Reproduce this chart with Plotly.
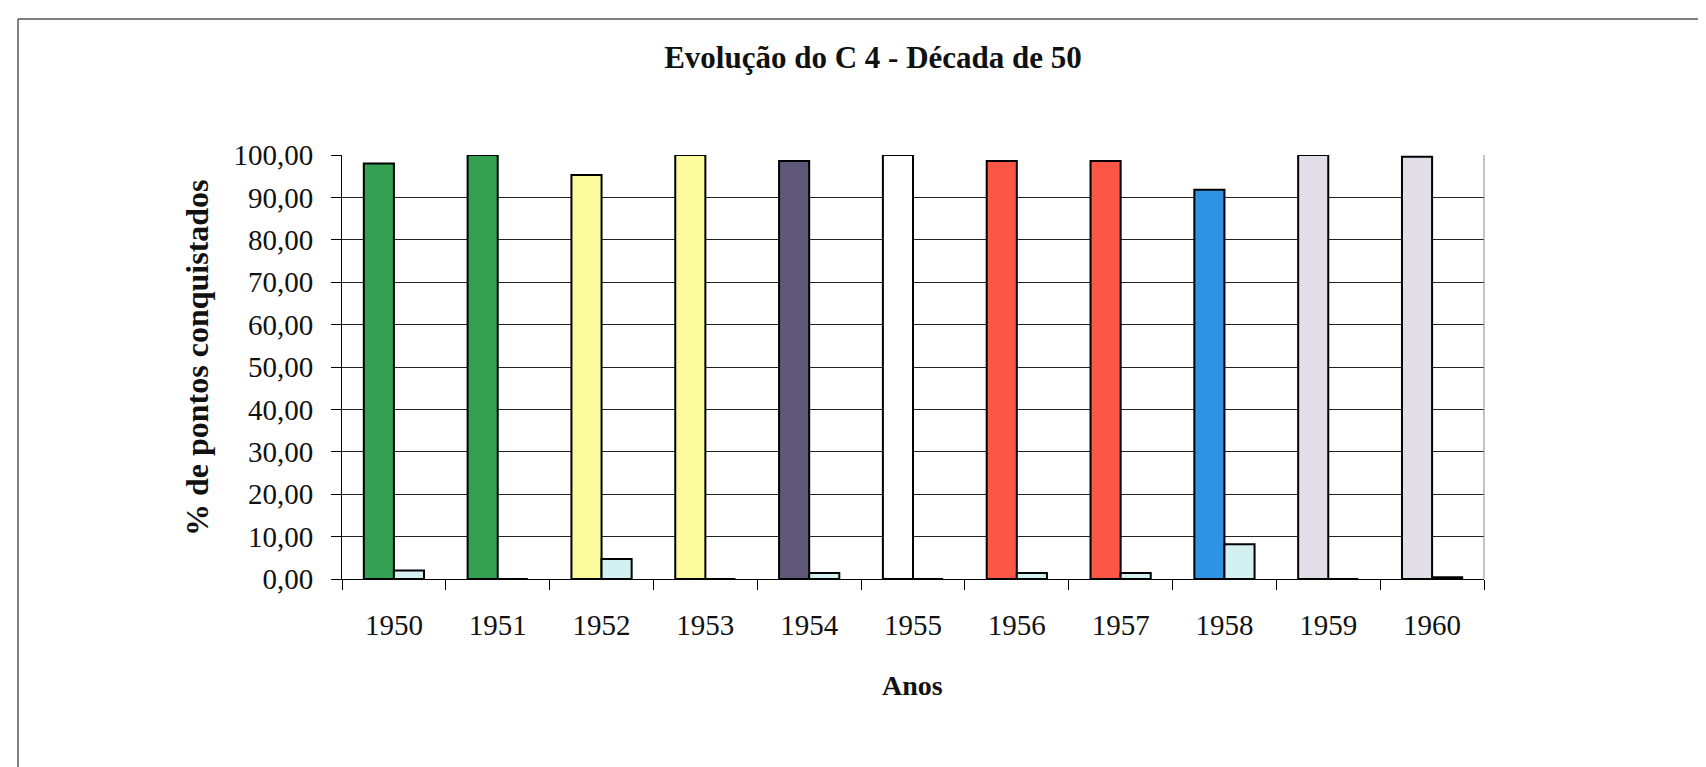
import plotly.graph_objects as go

anos = ["1950", "1951", "1952", "1953", "1954", "1955", "1956", "1957", "1958", "1959", "1960"]
pct_conquistados = [98.0, 100.0, 95.3, 100.0, 98.6, 100.0, 98.6, 98.6, 91.8, 100.0, 99.6]
pct_perdidos = [2.0, 0.0, 4.7, 0.0, 1.4, 0.0, 1.4, 1.4, 8.2, 0.0, 0.4]
cores_conquistados = ["#34a052", "#34a052", "#fbfb9e", "#fbfb9e", "#605878", "#ffffff",
                      "#fb5646", "#fb5646", "#2f93e3", "#e3dde7", "#e3dde7"]
cor_perdidos = "#d4f1f1"
titulo = "Evolução do C 4 - Década de 50"
titulo_y = "% de pontos conquistados"
titulo_x = "Anos"

W, H = 1706, 767
L, R, T, B = 334, 1476, 147, 571
pw, ph = R - L, B - T

def px(x):
    return (x - L) / pw

def py(y):
    return (B - y) / ph

serif = "Liberation Serif, Times New Roman, serif"

fig = go.Figure()
fig.add_trace(go.Bar(x=anos, y=pct_conquistados, marker=dict(color=cores_conquistados,
                     line=dict(color="black", width=2)), showlegend=False))
fig.add_trace(go.Bar(x=anos, y=pct_perdidos, marker=dict(color=cor_perdidos,
                     line=dict(color="black", width=2)), showlegend=False))

fig.update_layout(
    width=W, height=H,
    margin=dict(l=L, r=W - R, t=T, b=H - B, autoexpand=False),
    paper_bgcolor="white", plot_bgcolor="white",
    barmode="group", bargap=0.42, bargroupgap=0,
    separators=",.",
    font=dict(family=serif, color="black"),
    title=dict(text="<b>" + titulo + "</b>", x=865 / W, xref="container", xanchor="center",
               y=1 - 49 / H, yref="container", yanchor="middle",
               font=dict(family=serif, size=31, color="#111")),
    xaxis=dict(type="category", showgrid=False, tickson="boundaries", ticks="outside",
               ticklen=10, tickcolor="black", showline=True, linecolor="black", linewidth=1,
               tickfont=dict(family=serif, size=29, color="#111"), ticklabelstandoff=20,
               automargin=False),
    yaxis=dict(range=[0, 100], dtick=10, tickformat=".2f", showgrid=True, gridcolor="#222",
               gridwidth=1, ticks="outside", ticklen=10, tickcolor="black", showline=True,
               linecolor="black", linewidth=1, zeroline=False,
               tickfont=dict(family=serif, size=29, color="#111"), ticklabelstandoff=12,
               automargin=False),
    annotations=[
        dict(text="<b>" + titulo_y + "</b>", xref="paper", yref="paper", x=px(189), y=py(350),
             textangle=-90, showarrow=False, xanchor="center", yanchor="middle",
             font=dict(family=serif, size=32, color="#111")),
        dict(text="<b>" + titulo_x + "</b>", xref="paper", yref="paper", x=px(904), y=py(677),
             showarrow=False, xanchor="center", yanchor="middle",
             font=dict(family=serif, size=28, color="#111")),
    ],
    shapes=[
        dict(type="line", xref="paper", yref="paper", x0=1, x1=1, y0=0, y1=1,
             line=dict(color="#888", width=1)),
        dict(type="line", xref="paper", yref="paper", x0=px(10), x1=px(1710), y0=py(11), y1=py(11),
             line=dict(color="#555", width=1.5)),
        dict(type="line", xref="paper", yref="paper", x0=px(10), x1=px(10), y0=py(11), y1=py(770),
             line=dict(color="#555", width=1.5)),
        dict(type="line", xref="paper", yref="paper", x0=px(1703), x1=px(1703), y0=py(11), y1=py(770),
             line=dict(color="#bbb", width=1)),
    ],
)

fig.write_html("out.html")
